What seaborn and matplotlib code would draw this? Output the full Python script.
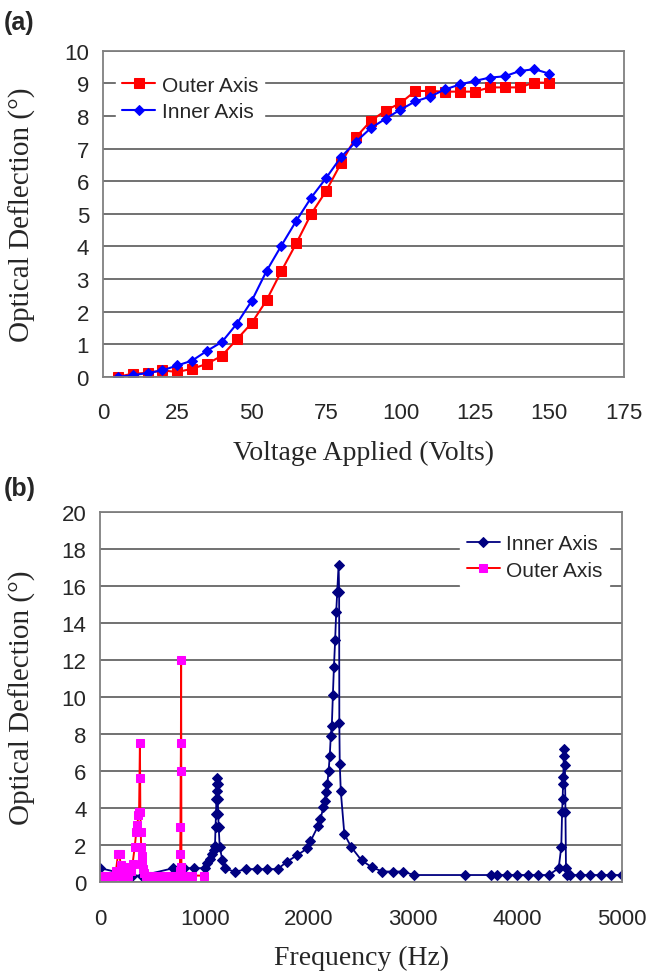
import numpy as np
import pandas as pd
import matplotlib
matplotlib.use("Agg")
import matplotlib.pyplot as plt
import seaborn as sns

# ---------------- Panel (a) data ----------------
voltage = [5, 10, 15, 20, 25, 30, 35, 40, 45, 50, 55, 60, 65, 70, 75,
           80, 85, 90, 95, 100, 105, 110, 115, 120, 125, 130, 135, 140, 145, 150]
outer_a = [0.0, 0.1, 0.12, 0.2, 0.15, 0.25, 0.4, 0.65, 1.15, 1.65, 2.35, 3.25, 4.1, 5.0, 5.7,
           6.55, 7.35, 7.85, 8.17, 8.4, 8.77, 8.77, 8.75, 8.75, 8.75, 8.88, 8.88, 8.88, 9.03, 9.02]
inner_a = [0.0, 0.05, 0.12, 0.2, 0.35, 0.5, 0.8, 1.07, 1.63, 2.33, 3.25, 4.03, 4.79, 5.5, 6.1,
           6.74, 7.21, 7.63, 7.92, 8.2, 8.45, 8.6, 8.82, 8.97, 9.08, 9.18, 9.22, 9.38, 9.44, 9.3]

# ---------------- Panel (b) data ----------------
freq_inner = [0, 300, 400, 700, 800, 900, 1000, 1025, 1050, 1070, 1090, 1100,
              1105, 1110, 1113, 1116, 1118, 1120, 1124, 1127, 1130, 1135, 1145,
              1170, 1195, 1290, 1400, 1500, 1600, 1700, 1790, 1890, 1985, 2015,
              2090, 2110, 2140, 2152, 2165, 2177, 2189, 2200, 2210, 2220, 2230,
              2240, 2252, 2262, 2272, 2285, 2290, 2292, 2296, 2306, 2340, 2405,
              2505, 2605, 2705, 2805, 2905, 3005, 3500, 3750, 3800, 3900, 4000,
              4100, 4200, 4300, 4395, 4420, 4428, 4433, 4437, 4440, 4445, 4450,
              4455, 4460, 4465, 4475, 4500, 4600, 4700, 4800, 4900, 5000]
defl_inner = [0.75, 0.35, 0.35, 0.75, 0.75, 0.75, 0.75, 1.05, 1.25, 1.5, 1.75, 1.95,
              3.0, 3.7, 4.5, 4.9, 5.3, 5.65, 5.3, 4.5, 3.7, 3.0, 1.9,
              1.2, 0.75, 0.55, 0.7, 0.7, 0.7, 0.7, 1.1, 1.46, 1.82, 2.2,
              3.05, 3.4, 4.05, 4.4, 4.85, 5.3, 6.0, 6.8, 7.9, 8.45, 10.1,
              11.6, 13.1, 14.6, 15.7, 17.15, 15.7, 8.6, 6.4, 4.9, 2.6, 1.9,
              1.17, 0.8, 0.57, 0.57, 0.57, 0.38, 0.38, 0.38, 0.38, 0.38, 0.38,
              0.38, 0.38, 0.38, 0.75, 1.9, 3.8, 4.5, 5.3, 5.7, 7.2, 6.8,
              6.3, 3.8, 0.75, 0.4, 0.38, 0.38, 0.38, 0.38, 0.38, 0.38]

freq_outer = [0, 20, 40, 60, 80, 100, 125, 150, 170, 185, 195, 210, 230, 250, 270,
              290, 310, 330, 345, 355, 365, 372, 376, 380, 384, 388, 392, 396, 402,
              410, 420, 435, 455, 480, 510, 540, 570, 600, 630, 660, 690, 720, 750,
              762, 766, 769, 771, 773, 775, 778, 790, 820, 880, 990]
defl_outer = [0.35, 0.35, 0.35, 0.35, 0.35, 0.35, 0.35, 0.6, 1.5, 1.5, 0.9, 0.35, 0.8, 0.8, 0.35,
              0.6, 1.0, 1.9, 2.7, 3.1, 3.6, 3.8, 5.6, 7.5, 3.8, 2.7, 1.9, 1.4, 1.0,
              0.7, 0.5, 0.35, 0.35, 0.35, 0.35, 0.35, 0.35, 0.35, 0.35, 0.35, 0.35, 0.35, 0.35,
              0.6, 1.5, 3.0, 6.0, 7.5, 12.0, 0.8, 0.35, 0.35, 0.35, 0.35]

# ---------------- Styling ----------------
sns.set_style("white")
plt.rcParams["font.family"] = ["Liberation Sans", "DejaVu Sans"]
serif = ["Liberation Serif", "DejaVu Serif"]

fig = plt.figure(figsize=(6.47, 9.79), dpi=100)
ax1 = fig.add_axes([0.159, 0.614, 0.805, 0.333])
ax2 = fig.add_axes([0.155, 0.098, 0.806, 0.378])

grid_c = "#4a4a4a"
frame_c = "#808080"


def style_axes(ax, xpad):
    ax.set_facecolor("white")
    for side in ["left", "bottom", "top", "right"]:
        ax.spines[side].set_visible(True)
        ax.spines[side].set_color(frame_c)
        ax.spines[side].set_linewidth(1.3)
    ax.yaxis.grid(True, color=grid_c, linewidth=1.1)
    ax.xaxis.grid(False)
    ax.set_axisbelow(True)
    ax.tick_params(axis="both", which="major", labelsize=16, direction="out",
                   length=6, width=1.1, color=frame_c, pad=4)
    ax.tick_params(axis="x", pad=xpad)


# Panel (a)
df_a = pd.DataFrame({"v": voltage, "outer": outer_a, "inner": inner_a})
sns.lineplot(data=df_a, x="v", y="outer", ax=ax1, color="#FF0000", marker="s",
             markersize=6.5, markeredgecolor="#FF0000", markerfacecolor="#FF0000",
             linewidth=1.5, sort=False, estimator=None, label="Outer Axis")
sns.lineplot(data=df_a, x="v", y="inner", ax=ax1, color="#0000FF", marker="D",
             markersize=5, markeredgecolor="#0000FF", markerfacecolor="#0000FF",
             linewidth=1.5, sort=False, estimator=None, label="Inner Axis")
ax1.set_xlim(0, 175)
ax1.set_ylim(0, 10)
ax1.set_xticks(np.arange(0, 176, 25))
ax1.set_yticks(np.arange(0, 11, 1))
style_axes(ax1, 12)
ax1.set_xlabel("Voltage Applied (Volts)", fontsize=20, family=serif, labelpad=12)
ax1.set_ylabel("Optical Deflection (°)", fontsize=21, family=serif, labelpad=14)
ax1.yaxis.set_label_coords(-0.128, 0.5)
leg1 = ax1.legend(loc="upper left", bbox_to_anchor=(0.005, 0.975), frameon=True,
                  fontsize=15, handlelength=1.6, handletextpad=0.3,
                  borderpad=0.3, labelspacing=0.35, fancybox=False)
leg1.get_frame().set_edgecolor("white")
leg1.get_frame().set_facecolor("white")
leg1.get_frame().set_alpha(1)

# Panel (b)
df_in = pd.DataFrame({"f": freq_inner, "d": defl_inner})
df_out = pd.DataFrame({"f": freq_outer, "d": defl_outer})
sns.lineplot(data=df_in, x="f", y="d", ax=ax2, color="#000080", marker="D",
             markersize=5, markeredgecolor="#000080", markerfacecolor="#000080",
             linewidth=1.3, sort=False, estimator=None, label="Inner Axis")
sns.lineplot(data=df_out, x="f", y="d", ax=ax2, color="#FF0000", marker="s",
             markersize=6, markeredgecolor="#FF00FF", markerfacecolor="#FF00FF",
             linewidth=1.4, sort=False, estimator=None, label="Outer Axis")
ax2.set_xlim(0, 5000)
ax2.set_ylim(0, 20)
ax2.set_xticks(np.arange(0, 5001, 1000))
ax2.set_yticks(np.arange(0, 21, 2))
style_axes(ax2, 13)
ax2.set_xlabel("Frequency (Hz)", fontsize=20, family=serif, labelpad=11)
ax2.set_ylabel("Optical Deflection (°)", fontsize=21, family=serif, labelpad=14)
ax2.yaxis.set_label_coords(-0.124, 0.5)
leg2 = ax2.legend(loc="upper right", bbox_to_anchor=(0.995, 0.985), frameon=True,
                  fontsize=15, handlelength=1.6, handletextpad=0.3,
                  borderpad=0.3, labelspacing=0.35, fancybox=False)
leg2.get_frame().set_edgecolor("white")
leg2.get_frame().set_facecolor("white")
leg2.get_frame().set_alpha(1)

fig.text(0.006, 0.976, "(a)", fontsize=18, fontweight="bold", va="center", ha="left")
fig.text(0.006, 0.500, "(b)", fontsize=18, fontweight="bold", va="center", ha="left")

fig.savefig("out.png", dpi=100, facecolor="white")
